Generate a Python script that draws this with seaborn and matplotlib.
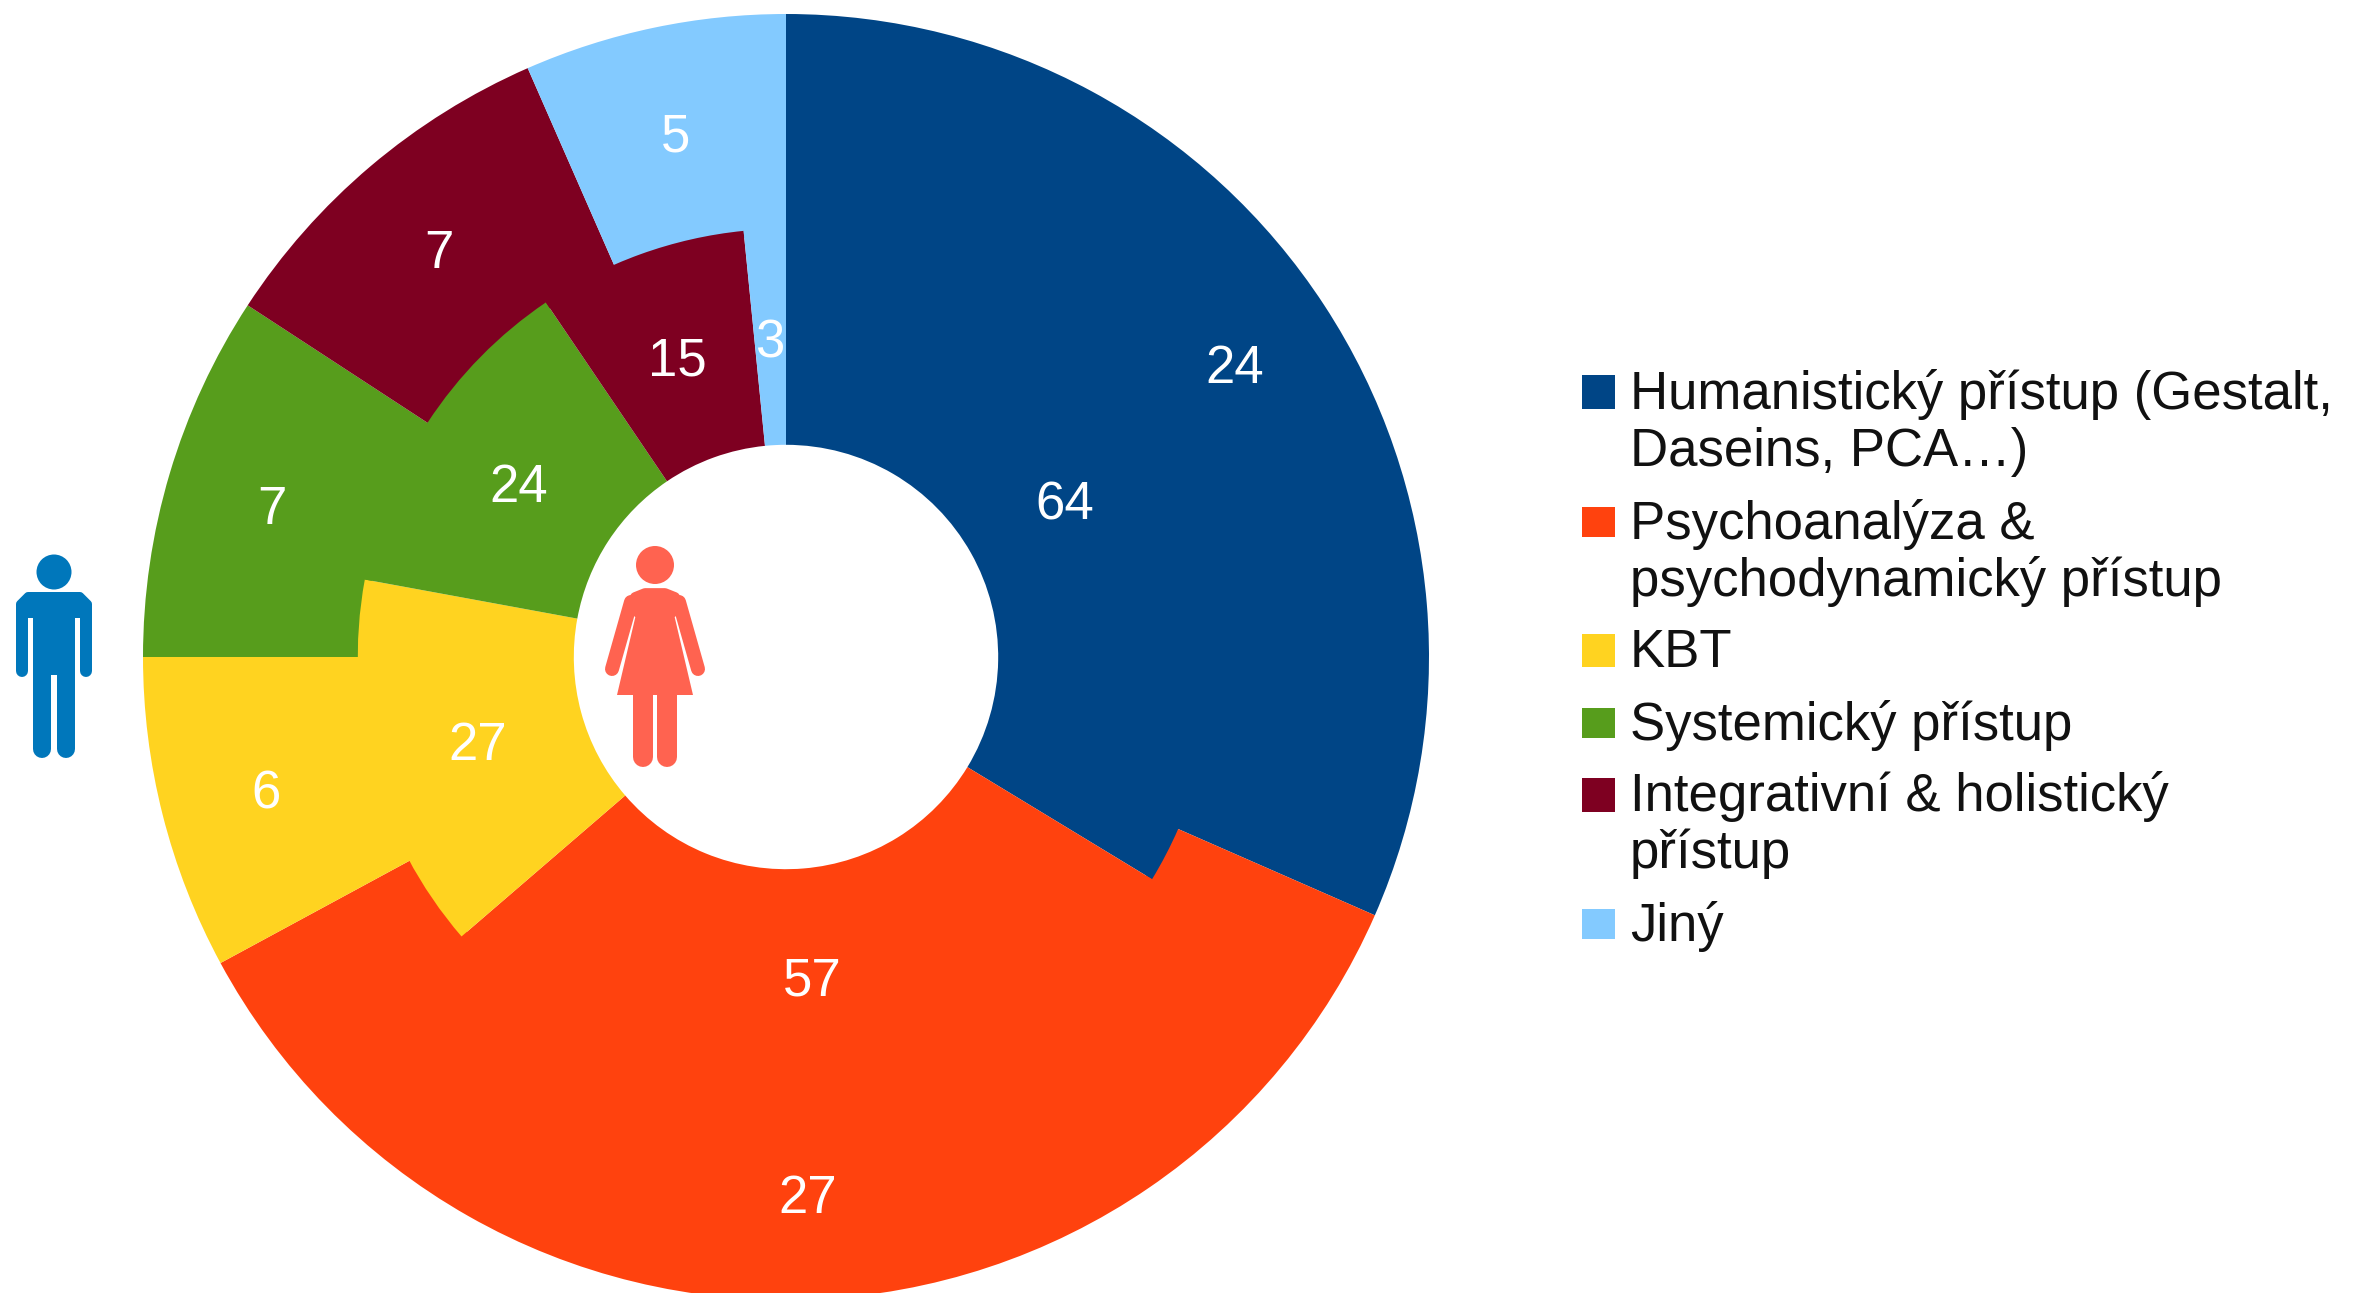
import matplotlib
matplotlib.use("Agg")
import matplotlib.pyplot as plt
import seaborn as sns
from matplotlib.patches import Circle, Polygon, Rectangle

sns.set_theme(style="white")
plt.rcParams["font.family"] = ["Liberation Sans", "DejaVu Sans"]

categories = [
    "Humanistický přístup (Gestalt,\nDaseins, PCA…)",
    "Psychoanalýza &\npsychodynamický přístup",
    "KBT",
    "Systemický přístup",
    "Integrativní & holistický\npřístup",
    "Jiný",
]
men = [24, 27, 6, 7, 7, 5]
women = [64, 57, 27, 24, 15, 3]
colors = ["#004586", "#ff420e", "#ffd320", "#579d1c", "#7e0021", "#83caff"]

palette = sns.color_palette(colors)
W, H = 2356, 1293
FONT = 38


def count_label(values):
    total = sum(values)
    return lambda pct: f"{pct * total / 100:.0f}"


fig = plt.figure(figsize=(W / 100, H / 100), dpi=100, facecolor="white")

# pie axes: centre (786, 657), outer radius 643 px
ax = fig.add_axes([143 / W, (H - 1300) / H, 1286 / W, 1286 / H])
text_style = {"color": "white", "fontsize": FONT}
# outer ring runs a bit under the inner one so no seam shows between them
_, _, men_texts = ax.pie(men, colors=palette, radius=1.0, startangle=90, counterclock=False,
                         wedgeprops={"width": 0.345, "linewidth": 0},
                         autopct=count_label(men), pctdistance=0.834, textprops=text_style)
_, _, women_texts = ax.pie(women, colors=palette, radius=0.666, startangle=90, counterclock=False,
                           wedgeprops={"width": 0.336, "linewidth": 0},
                           autopct=count_label(women), pctdistance=0.747, textprops=text_style)
for t in men_texts + women_texts:
    x, y = t.get_position()
    t.set_position((x, y - 0.009))
ax.set_xlim(-1, 1)
ax.set_ylim(-1, 1)

# overlay in pixel coordinates for the legend and the icons
px = fig.add_axes([0, 0, 1, 1], facecolor="none")
px.set_xlim(0, W)
px.set_ylim(H, 0)
px.axis("off")


def capsule(x0, y0, x1, y1, width, color):
    px.plot([x0, x1], [y0, y1], color=color, lw=width * 0.72, solid_capstyle="round")


# man
blue = "#0077bb"
px.add_patch(Circle((54, 572), 17.5, color=blue, lw=0))
px.add_patch(Polygon([(28, 596), (80, 596), (88, 604), (88, 614), (20, 614), (20, 604)],
                     closed=True, facecolor=blue, edgecolor=blue, lw=5.76, joinstyle="round"))
px.add_patch(Rectangle((33, 600), 42, 75, color=blue, lw=0))
capsule(22, 608, 22, 671, 12, blue)
capsule(86, 608, 86, 671, 12, blue)
capsule(42, 660, 42, 749, 18, blue)
capsule(66, 660, 66, 749, 18, blue)

# woman
coral = "#ff6350"
px.add_patch(Circle((655, 565), 19, color=coral, lw=0))
px.add_patch(Polygon([(645, 593), (665, 593), (675, 597), (680, 606), (672, 613),
                      (638, 613), (630, 606), (635, 597)],
                     closed=True, facecolor=coral, edgecolor=coral, lw=7, joinstyle="round"))
px.add_patch(Polygon([(637, 610), (617, 695), (693, 695), (673, 610)], closed=True,
                     facecolor=coral, lw=0))
capsule(631, 602, 612, 669, 14, coral)
capsule(679, 602, 698, 669, 14, coral)
capsule(643, 690, 643, 757, 20, coral)
capsule(667, 690, 667, 757, 20, coral)

# legend
key_tops = [375, 507, 634, 708, 778, 909]
key_sizes = [34, 30, 33, 30, 34, 30]
baselines = [409, 539, 667, 740, 811, 941]
for name, c, top, size, base in zip(categories, palette, key_tops, key_sizes, baselines):
    px.add_patch(Rectangle((1582, top), 33, size, facecolor=c, lw=0))
    for i, line in enumerate(name.split("\n")):
        px.text(1630, base + i * 57, line, fontsize=FONT, color="#111111",
                ha="left", va="baseline")

fig.savefig("out.png", dpi=100, facecolor="white")
